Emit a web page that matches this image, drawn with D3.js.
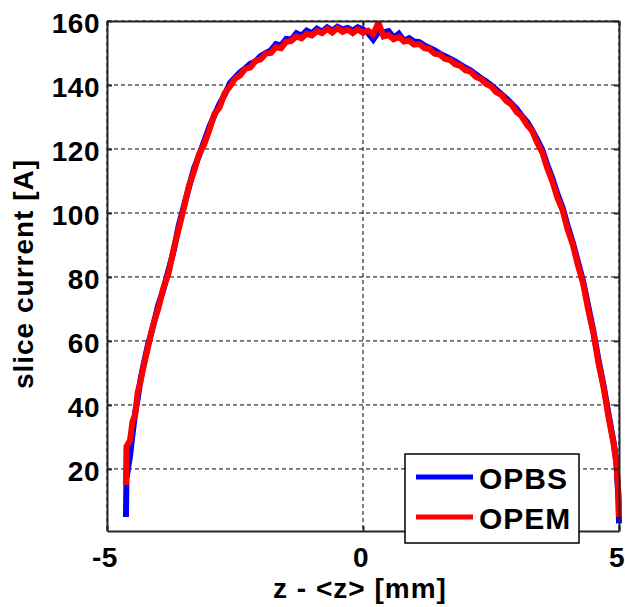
<!DOCTYPE html>
<html>
<head>
<meta charset="utf-8">
<script src="https://cdn.jsdelivr.net/npm/d3@7"></script>
<style>
  body { margin: 0; background: #fff; }
  text { font-family: "Liberation Sans", Arial, sans-serif; font-weight: bold; fill: #000; }
</style>
</head>
<body>
<svg id="chart"></svg>
<script>
// slice current profile, OPBS vs OPEM

// z - <z> [mm], shared by both series
const zValues = [-4.63, -4.62, -4.55, -4.5, -4.45, -4.4, -4.35, -4.3, -4.2, -4.1,
  -4.0, -3.9, -3.8, -3.7, -3.6, -3.5, -3.4, -3.3, -3.2, -3.1,
  -3.0, -2.9, -2.8, -2.7, -2.6, -2.5, -2.4, -2.3, -2.2, -2.1,
  -2.0, -1.9, -1.8, -1.7, -1.6, -1.5, -1.4, -1.3, -1.2, -1.1,
  -1.0, -0.9, -0.8, -0.7, -0.6, -0.5, -0.4, -0.3, -0.2, -0.1,
  0.0, 0.1, 0.2, 0.3, 0.4, 0.5, 0.6, 0.7, 0.8, 0.9,
  1.0, 1.1, 1.2, 1.3, 1.4, 1.5, 1.6, 1.7, 1.8, 1.9,
  2.0, 2.1, 2.2, 2.3, 2.4, 2.5, 2.6, 2.7, 2.8, 2.9,
  3.0, 3.1, 3.2, 3.3, 3.4, 3.5, 3.6, 3.7, 3.8, 3.9,
  4.0, 4.1, 4.2, 4.3, 4.4, 4.5, 4.6, 4.7, 4.8, 4.9,
  4.95, 4.99, 5.0];

// slice current [A]
const opbs = [5, 17, 24, 31, 37.5, 42, 47.5, 51.5, 58.8, 64.5,
  71.2, 76, 82, 88, 96, 102, 108, 114, 118, 122.5,
  127, 130.6, 134.2, 137, 140.6, 142.3, 144, 145.2, 146.6, 147.4,
  149, 150, 150.8, 152.8, 152.4, 154.4, 154.2, 156.2, 155.4, 157,
  156.2, 157.6, 156.6, 158, 157, 158.2, 157.4, 157.8, 157, 158,
  157.4, 156.2, 154.2, 156.5, 156.4, 156.8, 154.8, 156, 153.8, 154.6,
  153.6, 153.4, 152.4, 151.6, 150.8, 149.8, 149, 148.2, 147.4, 146.4,
  145.4, 144.6, 143.4, 142.2, 141.2, 140, 138.6, 137.2, 135.8, 134.2,
  132.6, 130.4, 128.6, 126, 123, 119.8, 115, 110.8, 105.8, 101.6,
  95.8, 90.6, 84.6, 78.6, 70.8, 63, 54, 46, 36.8, 27.8,
  22, 10, 3];

const opem = [15, 27, 29, 35, 37, 44, 47, 51, 58, 65,
  70, 76.5, 81, 88.5, 95, 101.5, 108.5, 113, 118.5, 121.5,
  126, 131, 133, 137.5, 139.5, 142, 143, 145, 145.5, 147.5,
  148, 149.8, 150, 151.8, 151.5, 153.5, 153.8, 155.2, 154.6, 156,
  155.5, 156.8, 156.2, 157.5, 156.4, 157.8, 156.6, 157.3, 156.2, 157.4,
  156.3, 157, 155.8, 159.5, 155.2, 155.6, 154.3, 155, 153.6, 153.8,
  152.6, 152.8, 151.5, 151.2, 149.8, 149.5, 148.2, 147.8, 146.5, 146,
  144.6, 144.2, 142.6, 141.9, 140.4, 139.6, 137.8, 136.9, 135, 133.9,
  131.6, 130.2, 127.6, 125.8, 122, 119, 114, 109.8, 104.6, 100.8,
  94.6, 90, 83.5, 78, 69.6, 62.5, 53, 45.4, 35.8, 27.4,
  21.5, 12, 5];

const xTicks = [-5, 0, 5];
const yTicks = [20, 40, 60, 80, 100, 120, 140, 160];
const seriesNames = ["OPBS", "OPEM"];
const seriesColors = ["#0000ff", "#ff0000"];

const W = 625, H = 607;
const pLeft = 107, pRight = 619, pTop = 21, pBottom = 531;

const svg = d3.select("#chart")
  .attr("width", W)
  .attr("height", H);

svg.append("rect")
  .attr("width", W)
  .attr("height", H)
  .attr("fill", "#fff");

const x = d3.scaleLinear().domain([-5, 5]).range([pLeft, pRight]);
const y = d3.scaleLinear().domain([0.6, 160]).range([pBottom, pTop]);

// grid lines (dashed)
svg.append("g")
  .selectAll("line")
  .data(yTicks)
  .enter()
  .append("line")
  .attr("x1", pLeft).attr("x2", pRight)
  .attr("y1", d => y(d)).attr("y2", d => y(d))
  .attr("stroke", "#000")
  .attr("stroke-width", 1)
  .attr("stroke-dasharray", "4,3");

svg.append("g")
  .selectAll("line")
  .data(xTicks)
  .enter()
  .append("line")
  .attr("x1", d => x(d)).attr("x2", d => x(d))
  .attr("y1", pTop).attr("y2", pBottom)
  .attr("stroke", "#000")
  .attr("stroke-width", 1)
  .attr("stroke-dasharray", "4,3");

// the two curves, blue under red
const lineFun = d3.line()
  .x((d, i) => x(zValues[i]))
  .y(d => y(d));

[opbs, opem].forEach((series, i) => {
  svg.append("path")
    .attr("d", lineFun(series))
    .attr("fill", "none")
    .attr("stroke", seriesColors[i])
    .attr("stroke-width", 6)
    .attr("stroke-linejoin", "miter")
    .attr("stroke-miterlimit", 2);
});

// axes with inward ticks on all four sides
const axisColor = "#262626";
svg.append("g")
  .attr("transform", `translate(0,${pBottom})`)
  .call(d3.axisBottom(x).tickValues(xTicks).tickSizeInner(-5).tickSizeOuter(0).tickFormat(""))
  .call(g => g.selectAll("line,path").attr("stroke", axisColor).attr("stroke-width", 2));
svg.append("g")
  .attr("transform", `translate(0,${pTop})`)
  .call(d3.axisTop(x).tickValues(xTicks).tickSizeInner(-5).tickSizeOuter(0).tickFormat(""))
  .call(g => g.selectAll("line,path").attr("stroke", axisColor).attr("stroke-width", 2));
svg.append("g")
  .attr("transform", `translate(${pLeft},0)`)
  .call(d3.axisLeft(y).tickValues(yTicks).tickSizeInner(-5).tickSizeOuter(0).tickFormat(""))
  .call(g => g.selectAll("line,path").attr("stroke", axisColor).attr("stroke-width", 2));
svg.append("g")
  .attr("transform", `translate(${pRight},0)`)
  .call(d3.axisRight(y).tickValues(yTicks).tickSizeInner(-5).tickSizeOuter(0).tickFormat(""))
  .call(g => g.selectAll("line,path").attr("stroke", axisColor).attr("stroke-width", 2));

// tick labels
svg.append("g")
  .selectAll("text")
  .data(yTicks)
  .enter()
  .append("text")
  .attr("x", pLeft - 7)
  .attr("y", d => y(d) + 12)
  .attr("text-anchor", "end")
  .style("font-size", "28px")
  .style("letter-spacing", "0.5px")
  .text(d => d);

svg.append("g")
  .selectAll("text")
  .data(xTicks)
  .enter()
  .append("text")
  .attr("x", d => x(d) - 2)
  .attr("y", pBottom + 36)
  .attr("text-anchor", "middle")
  .style("font-size", "28px")
  .style("letter-spacing", "0.5px")
  .text(d => d === 0 ? "0" : (d < 0 ? "-" + Math.abs(d) : d));

// axis titles
svg.append("text")
  .attr("x", 360)
  .attr("y", 598)
  .attr("text-anchor", "middle")
  .style("font-size", "28px")
  .style("letter-spacing", "1px")
  .text("z - <z> [mm]");

svg.append("text")
  .attr("transform", "translate(33,274) rotate(-90)")
  .attr("text-anchor", "middle")
  .style("font-size", "28px")
  .style("letter-spacing", "1px")
  .text("slice current [A]");

// legend
const legend = svg.append("g");
legend.append("rect")
  .attr("x", 405).attr("y", 454)
  .attr("width", 174).attr("height", 89)
  .attr("fill", "#fff")
  .attr("stroke", "#000")
  .attr("stroke-width", 1.5);

seriesNames.forEach((name, i) => {
  const ly = 477 + i * 40;
  legend.append("line")
    .attr("x1", 416).attr("x2", 473)
    .attr("y1", ly).attr("y2", ly)
    .attr("stroke", seriesColors[i])
    .attr("stroke-width", 5);
  legend.append("text")
    .attr("x", 479)
    .attr("y", ly + 12)
    .style("font-size", "30px")
    .style("letter-spacing", "1px")
    .text(name);
});
</script>
</body>
</html>
